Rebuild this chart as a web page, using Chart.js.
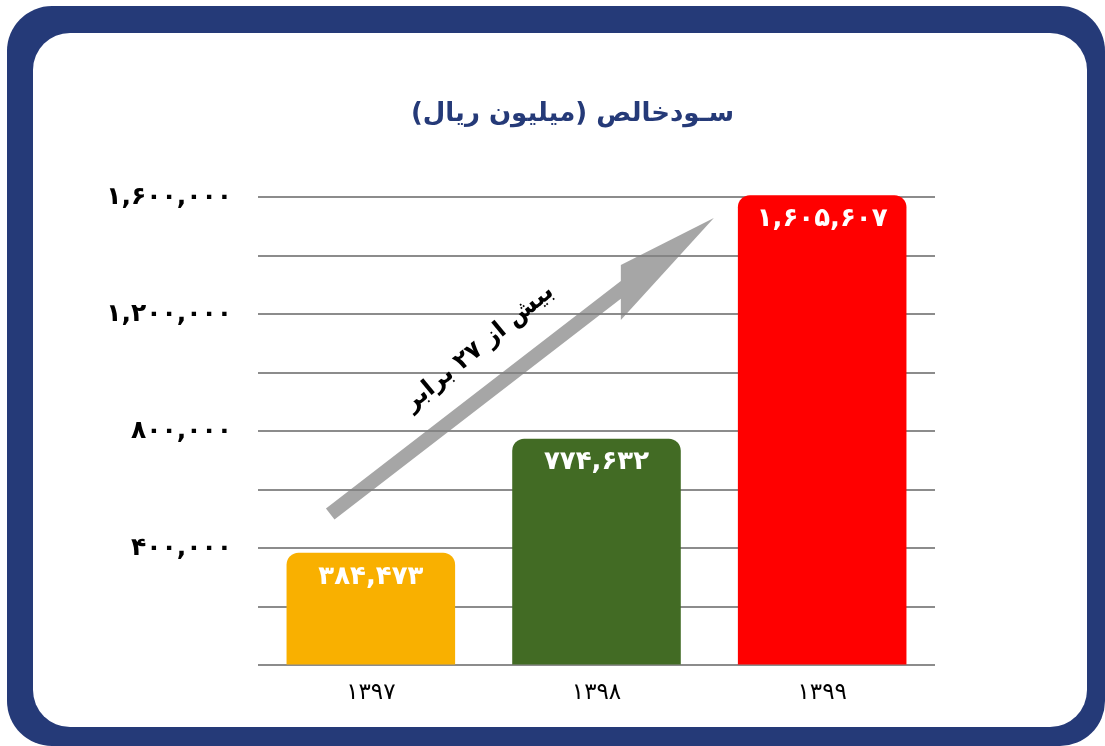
<!DOCTYPE html>
<html lang="fa">
<head>
<meta charset="utf-8">
<title>سودخالص</title>
<script src="https://cdn.jsdelivr.net/npm/chart.js@4.4.1/dist/chart.umd.min.js"></script>
<style>
  html, body { margin: 0; padding: 0; background: #ffffff; }
  #frame { position: absolute; left: 7px; top: 6px; width: 1098px; height: 740px; background: #253a78; border-radius: 45px; }
  #paper { position: absolute; left: 33px; top: 33px; width: 1054px; height: 694px; background: #ffffff; border-radius: 37px; }
  #wrap { position: absolute; left: 0; top: 0; width: 1105px; height: 746px; }
</style>
</head>
<body>
<div id="frame"></div>
<div id="paper"></div>
<div id="wrap"><canvas id="stage" dir="rtl"></canvas></div>
<script>
// داده ها
var years = ['۱۳۹۷', '۱۳۹۸', '۱۳۹۹'];
var netProfit = [384473, 774632, 1605607];
var barColors = ['#f9b000', '#426b24', '#ff0000'];
var yTicks = [400000, 800000, 1200000, 1600000];
var titleText = 'سـودخالص (میلیون ریال)';
var arrowText = 'بیش از ۲۷ برابر';

function faDigits(s) {
  return String(s).replace(/\d/g, function (d) { return '۰۱۲۳۴۵۶۷۸۹'[d]; });
}
function fmt(n) {
  return faDigits(n.toLocaleString('en-US'));
}

// عنوان نمودار
var chartTitle = {
  id: 'chartTitle',
  afterDraw: function (chart) {
    var ctx = chart.ctx, a = chart.chartArea;
    ctx.save();
    ctx.fillStyle = '#253a78';
    ctx.font = 'bold 26px "DejaVu Sans"';
    ctx.textAlign = 'center';
    ctx.textBaseline = 'middle';
    ctx.fillText(titleText, (a.left + a.right) / 2 - 24, a.top - 83);
    ctx.restore();
  }
};

// برچسب روی میله ها
var barLabels = {
  id: 'barLabels',
  afterDatasetsDraw: function (chart) {
    var ctx = chart.ctx;
    var meta = chart.getDatasetMeta(0);
    ctx.save();
    ctx.fillStyle = '#ffffff';
    ctx.font = 'bold 26px "DejaVu Sans"';
    ctx.textAlign = 'center';
    ctx.textBaseline = 'middle';
    meta.data.forEach(function (bar, i) {
      ctx.fillText(fmt(netProfit[i]), bar.x, bar.y + 24);
    });
    ctx.restore();
  }
};

// فلش رشد
var growthArrow = {
  id: 'growthArrow',
  afterDatasetsDraw: function (chart) {
    var ctx = chart.ctx;
    var xs = chart.scales.x, ys = chart.scales.y;
    var tail = { x: xs.getPixelForValue(-0.18), y: ys.getPixelForValue(517000) };
    var tip = { x: xs.getPixelForValue(1.52), y: ys.getPixelForValue(1528000) };
    var dx = tip.x - tail.x, dy = tip.y - tail.y;
    var len = Math.sqrt(dx * dx + dy * dy);
    var nx = -dy / len * 7, ny = dx / len * 7;
    var backX = tip.x - 93;
    function edgeY(sign) {
      var x0 = tail.x + sign * nx, y0 = tail.y + sign * ny;
      return y0 + dy * (backX - x0) / dx;
    }

    ctx.save();
    ctx.fillStyle = 'rgba(128,128,128,0.7)';
    ctx.beginPath();
    ctx.moveTo(tail.x + nx, tail.y + ny);
    ctx.lineTo(backX, edgeY(1));
    ctx.lineTo(backX, tip.y + 102);
    ctx.lineTo(tip.x, tip.y);
    ctx.lineTo(backX, tip.y + 47);
    ctx.lineTo(backX, edgeY(-1));
    ctx.lineTo(tail.x - nx, tail.y - ny);
    ctx.closePath();
    ctx.fill();

    var tx = xs.getPixelForValue(0.48), ty = ys.getPixelForValue(1085000);
    ctx.translate(tx, ty);
    ctx.rotate(Math.atan2(dy, dx) - 0.03);
    ctx.fillStyle = '#000000';
    ctx.font = 'bold 24px "DejaVu Sans"';
    ctx.textAlign = 'center';
    ctx.textBaseline = 'middle';
    ctx.fillText(arrowText, 0, 0);
    ctx.restore();
  }
};

var canvas = document.getElementById('stage');
var chart = new Chart(canvas, {
  type: 'bar',
  data: {
    labels: years,
    datasets: [{
      data: netProfit,
      backgroundColor: barColors,
      borderRadius: { topLeft: 12, topRight: 12, bottomLeft: 0, bottomRight: 0 },
      borderSkipped: 'bottom',
      barPercentage: 0.83,
      categoryPercentage: 0.9,
      clip: false
    }]
  },
  options: {
    responsive: true,
    maintainAspectRatio: false,
    animation: false,
    layout: { padding: { left: 58, right: 170, top: 197, bottom: 33 } },
    plugins: {
      legend: { display: false },
      tooltip: { enabled: false },
      title: { display: false }
    },
    scales: {
      x: {
        grid: { display: false },
        border: { display: false },
        ticks: {
          color: '#000000',
          padding: 6,
          font: { family: '"DejaVu Sans"', size: 23 }
        }
      },
      y: {
        min: 0,
        max: 1600000,
        afterFit: function (scale) { scale.width = 200; },
        border: { display: false },
        grid: { color: '#8c8c8c', lineWidth: 2, drawTicks: false },
        ticks: {
          stepSize: 200000,
          color: '#000000',
          padding: 26,
          font: { family: '"DejaVu Sans"', size: 25, weight: 'bold' },
          callback: function (v) {
            return yTicks.indexOf(v) >= 0 ? fmt(v) : '';
          }
        }
      }
    }
  },
  plugins: [chartTitle, barLabels, growthArrow]
});
</script>
</body>
</html>
